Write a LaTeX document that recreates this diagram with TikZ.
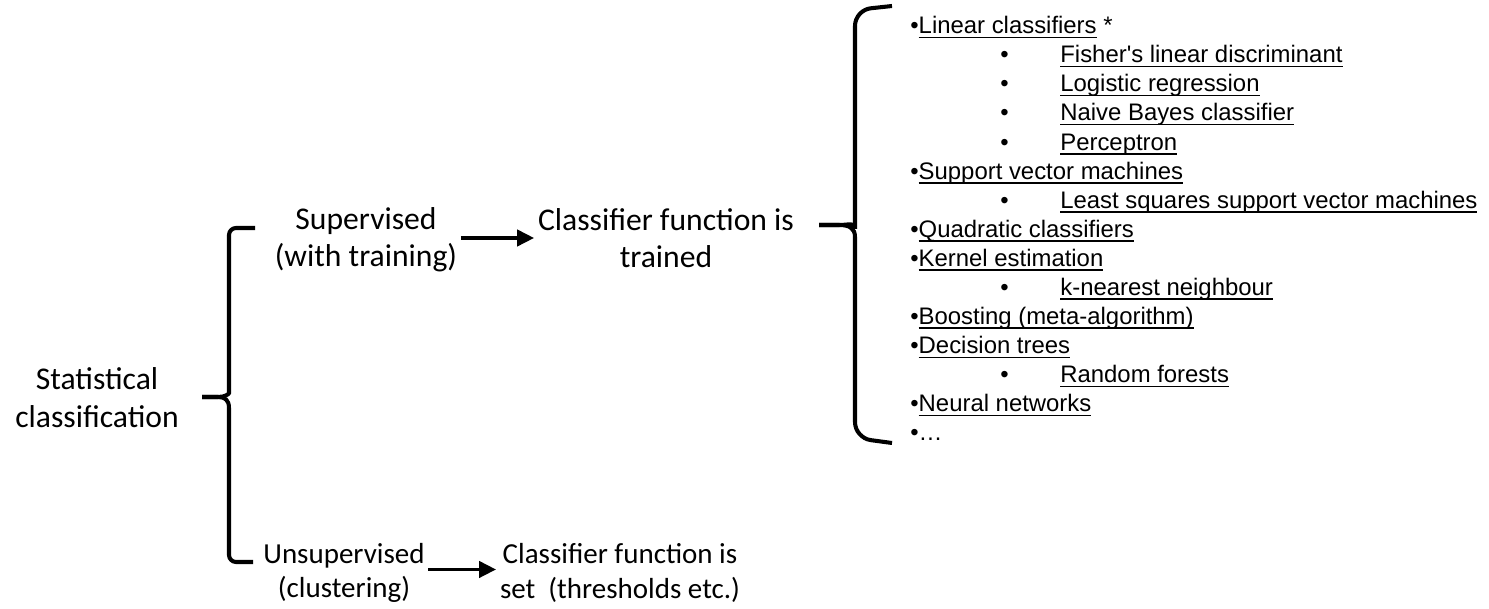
\documentclass[tikz,border=0pt]{standalone}
\usepackage{fontspec}
\setmainfont{Carlito}
\newfontfamily\arialfont{Liberation Sans}
\usetikzlibrary{arrows.meta}

\newcommand{\lnk}[1]{\leavevmode\setbox0\hbox{#1}\rlap{\rule[-2.4pt]{\wd0}{0.7pt}}\box0\relax}

\begin{document}
\begin{tikzpicture}[every node/.style={inner sep=2pt},
  big/.style={align=center, font=\fontsize{18}{21.5}\selectfont},
  mid/.style={align=center, font=\fontsize{18}{21}\selectfont},
  low/.style={align=center, font=\fontsize{16.5}{19.5}\selectfont},
  item/.style={anchor=base west, inner sep=0pt, font=\fontsize{13.6}{16}\selectfont\arialfont},
  arr/.style={line width=2.2pt, -{Triangle[length=3.4mm, width=3.2mm]}},
  brace/.style={line width=2.3pt, rounded corners=4pt}]
  \useasboundingbox (0,0) rectangle (29.78,12.18);

  \node [big] (stat) at (1.94cm, 4.22cm) {Statistical\\classification};
  \node [mid] (sup) at (7.32cm, 7.38cm) {Supervised\\(with training)};
  \node [low] (unsup) at (6.88cm, 0.72cm) {Unsupervised\\(clustering)};
  \node [mid] (trained) at (13.32cm, 7.42cm) {Classifier function is\\trained};
  \node [low] (set) at (12.40cm, 0.72cm) {Classifier function is\\set\ \ (thresholds etc.)};
  \draw [arr] (sup.east |- trained) -- (trained);
  \draw [arr] ([yshift=2pt]unsup.east) -- ([yshift=2pt]set.west);

  % left brace
  \coordinate (ltop) at (5.10cm, 7.62cm);
  \coordinate (ltip) at (4.04cm, 4.24cm);
  \coordinate (lbot) at (5.06cm, 0.94cm);
  \draw [brace] (ltop) -- (4.58cm, 7.62cm) -- (4.58cm, 4.46cm) [sharp corners]
    .. controls (4.58cm, 4.30cm) and (4.50cm, 4.24cm) .. (4.36cm, 4.24cm) -- (ltip);
  \draw [brace, sharp corners] (ltip) -- (4.36cm, 4.24cm)
    .. controls (4.50cm, 4.24cm) and (4.58cm, 4.18cm) .. (4.58cm, 4.02cm) [rounded corners=4pt] -- (4.58cm, 0.94cm) -- (lbot);

  % right brace
  \coordinate (rtop) at (17.84cm, 12.06cm);
  \coordinate (rtip) at (16.38cm, 7.68cm);
  \coordinate (rbot) at (17.84cm, 3.32cm);
  \draw [brace, rounded corners=9pt] (rtop) -- (17.10cm, 11.98cm) -- (17.10cm, 7.92cm) [sharp corners]
    .. controls (17.10cm, 7.74cm) and (16.98cm, 7.68cm) .. (16.78cm, 7.68cm) -- (rtip);
  \draw [brace, sharp corners] (rtip) -- (16.78cm, 7.68cm)
    .. controls (16.98cm, 7.68cm) and (17.10cm, 7.62cm) .. (17.10cm, 7.44cm) [rounded corners=9pt] -- (17.10cm, 3.42cm) -- (rbot);

  % list of methods
  \node [item] (0) at (18.20cm, 11.50cm) {•\lnk{Linear classifiers} *};
  \node [item] (1) at (20.00cm, 10.92cm) {\makebox[1.2cm][l]{•}\lnk{Fisher's linear discriminant}};
  \node [item] (2) at (20.00cm, 10.34cm) {\makebox[1.2cm][l]{•}\lnk{Logistic regression}};
  \node [item] (3) at (20.00cm, 9.76cm) {\makebox[1.2cm][l]{•}\lnk{Naive Bayes classifier}};
  \node [item] (4) at (20.00cm, 9.17cm) {\makebox[1.2cm][l]{•}\lnk{Perceptron}};
  \node [item] (5) at (18.20cm, 8.59cm) {•\lnk{Support vector machines}};
  \node [item] (6) at (20.00cm, 8.01cm) {\makebox[1.2cm][l]{•}\lnk{Least squares support vector machines}};
  \node [item] (7) at (18.20cm, 7.43cm) {•\lnk{Quadratic classifiers}};
  \node [item] (8) at (18.20cm, 6.85cm) {•\lnk{Kernel estimation}};
  \node [item] (9) at (20.00cm, 6.27cm) {\makebox[1.2cm][l]{•}\lnk{k-nearest neighbour}};
  \node [item] (10) at (18.20cm, 5.69cm) {•\lnk{Boosting (meta-algorithm)}};
  \node [item] (11) at (18.20cm, 5.10cm) {•\lnk{Decision trees}};
  \node [item] (12) at (20.00cm, 4.52cm) {\makebox[1.2cm][l]{•}\lnk{Random forests}};
  \node [item] (13) at (18.20cm, 3.94cm) {•\lnk{Neural networks}};
  \node [item] (14) at (18.20cm, 3.36cm) {•…};
\end{tikzpicture}
\end{document}
